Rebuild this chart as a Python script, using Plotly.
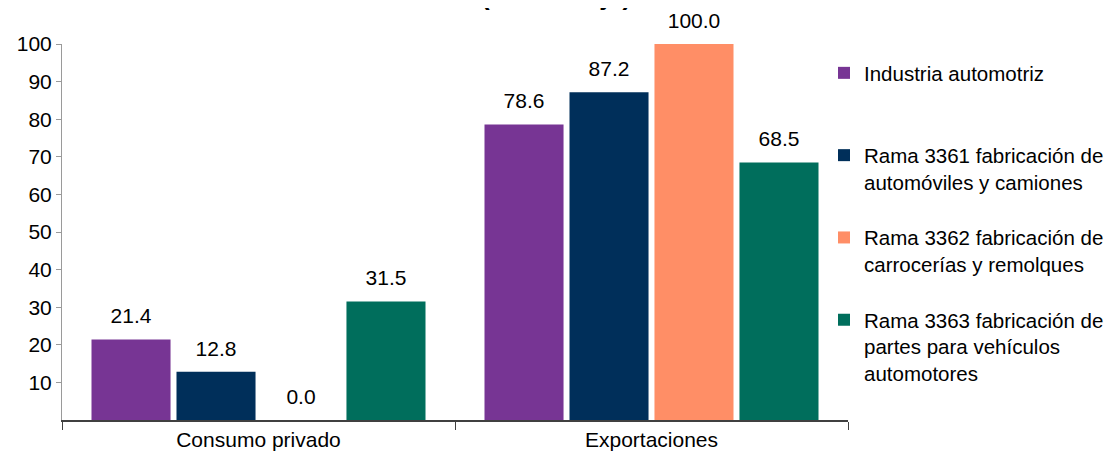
import plotly.graph_objects as go

categories = ["Consumo privado", "Exportaciones"]
series_names = [
    "Industria automotriz<br> ",
    "Rama 3361 fabricación de<br>automóviles y camiones",
    "Rama 3362 fabricación de<br>carrocerías y remolques",
    "Rama 3363 fabricación de<br>partes para vehículos<br>automotores",
]
industria = [21.4, 78.6]
rama_3361 = [12.8, 87.2]
rama_3362 = [0.0, 100.0]
rama_3363 = [31.5, 68.5]
colors = ["#773594", "#002F5A", "#FF8E66", "#006E5C"]
y_ticks = [10, 20, 30, 40, 50, 60, 70, 80, 90, 100]
title_text = "(Porcentaje)"

FONT = "Liberation Sans, Arial, sans-serif"
FS = 21
BARGAP = 0.135
PLOT_W = 786
FIG_W = 1130

fig = go.Figure()
all_series = [industria, rama_3361, rama_3362, rama_3363]
for i, (name, vals) in enumerate(zip(series_names, all_series)):
    fig.add_trace(go.Bar(
        x=categories, y=vals, name=name,
        marker=dict(color=colors[i], line=dict(width=0)),
        legendgroup=f"g{i}",
        hoverinfo="y",
    ))
# value labels, grouped the same way as the bars
for i, vals in enumerate(all_series):
    fig.add_trace(go.Scatter(
        x=categories, y=vals, mode="markers+text", orientation="v",
        text=[f"{v:.1f}" for v in vals], textposition="top center",
        textfont=dict(size=FS, color="#000000", family=FONT),
        marker=dict(size=16, color="rgba(0,0,0,0)", line=dict(width=0)),
        showlegend=False, hoverinfo="skip", cliponaxis=False,
    ))

fig.update_layout(
    width=FIG_W, height=446,
    margin=dict(l=54, r=FIG_W - 54 - PLOT_W, t=36, b=34, autoexpand=False),
    paper_bgcolor="white", plot_bgcolor="white",
    font=dict(family=FONT, size=FS, color="#000000"),
    barmode="group", bargap=BARGAP, bargroupgap=0.07,
    scattermode="group", scattergap=BARGAP,
    showlegend=True,
    legend=dict(
        x=0.9695, xanchor="left", y=0.976, yanchor="top",
        valign="top", tracegroupgap=26,
        font=dict(size=20.5, family=FONT, color="#000000"),
        bgcolor="rgba(0,0,0,0)", itemclick=False,
    ),
    annotations=[dict(
        text=f"<b>{title_text}</b>", xref="paper", yref="paper",
        x=0.628, y=1.0824, xanchor="center", yanchor="bottom",
        showarrow=False, font=dict(size=26, family=FONT, color="#000000"),
    )],
)
fig.update_yaxes(
    range=[0, 100], tickvals=y_ticks, showgrid=False, zeroline=False,
    showline=True, linecolor="#9A9A9A", linewidth=1,
    ticks="outside", ticklen=5, tickcolor="#9A9A9A",
    tickfont=dict(size=FS, family=FONT),
)
fig.update_xaxes(
    showgrid=False, showline=True, linecolor="#404040", linewidth=1.5,
    ticks="outside", tickson="boundaries", ticklen=8, tickcolor="#404040",
    tickfont=dict(size=FS, family=FONT),
)

fig.write_html("out.html")
